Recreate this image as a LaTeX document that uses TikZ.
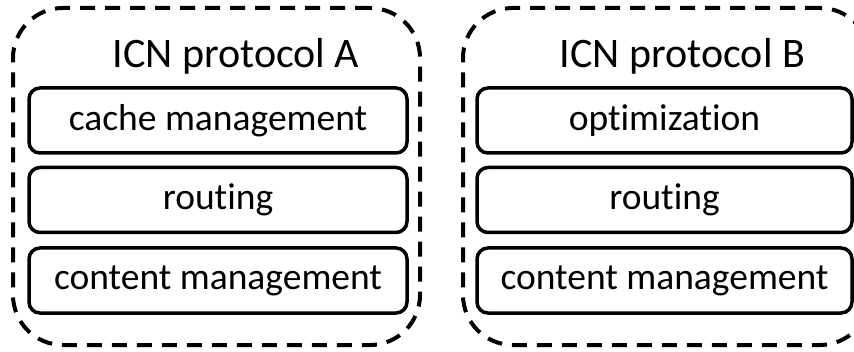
\documentclass[tikz,border=0pt]{standalone}
\usepackage{fontspec}
\setmainfont{Carlito}[Ligatures=NoCommon]
\usepackage{tikz}

\begin{document}
\begin{tikzpicture}[x=1pt,y=1pt,
    proto/.style={draw,line width=4pt,dash pattern=on 15pt off 10pt,rounded corners=50pt,minimum width=407pt,minimum height=337pt},
    layer/.style={draw,line width=3.5pt,rounded corners=11pt,minimum height=65pt,font=\fontsize{37.5}{42}\selectfont},
    title/.style={font=\fontsize{42}{48}\selectfont,anchor=base}]
\useasboundingbox (0,0) rectangle (854,351);
% protocol A
\node[proto] (A) at (216.5,174.5) {};
\node[title] (Atitle) at (236,283) {ICN protocol A};
\node[layer,minimum width=378pt] (Acache) at (218,230.5) {cache management};
\node[layer,minimum width=378pt] (Arout) at (218,151) {routing};
\node[layer,minimum width=378pt] (Acont) at (218,70.5) {content management};
% protocol B
\node[proto] (B) at (666.5,174.5) {};
\node[title] (Btitle) at (682.5,283) {ICN protocol B};
\node[layer,minimum width=375pt] (Bopt) at (664.5,230.5) {optimization};
\node[layer,minimum width=375pt] (Brout) at (664.5,151) {routing};
\node[layer,minimum width=375pt] (Bcont) at (664.5,70.5) {content management};
\end{tikzpicture}
\end{document}
